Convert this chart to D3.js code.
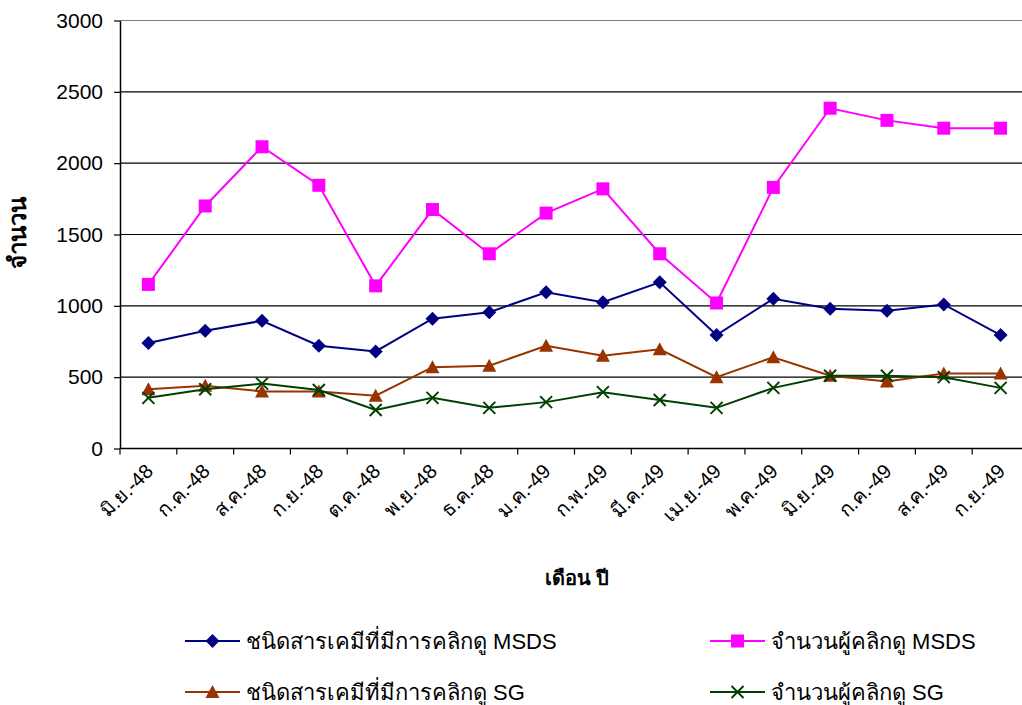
<!DOCTYPE html>
<html><head><meta charset="utf-8">
<script src="https://cdn.jsdelivr.net/npm/d3@7"></script>
<style>body{margin:0;background:#fff}svg{display:block}text{font-family:Arial,"Liberation Sans",sans-serif}</style>
</head><body><svg id="c" width="1022" height="705"></svg>
<script>
const categories = ["มิ.ย.-48","ก.ค.-48","ส.ค.-48","ก.ย.-48","ต.ค.-48","พ.ย.-48","ธ.ค.-48","ม.ค.-49","ก.พ.-49","มี.ค.-49","เม.ย.-49","พ.ค.-49","มิ.ย.-49","ก.ค.-49","ส.ค.-49","ก.ย.-49"];
const chemMSDS  = [740,825,895,720,680,910,955,1095,1025,1165,795,1050,980,965,1010,795];
const usersMSDS = [1150,1700,2115,1845,1140,1675,1365,1650,1820,1365,1020,1830,2385,2300,2245,2245];
const chemSG    = [415,440,400,400,370,570,580,720,650,695,500,640,510,470,525,525];
const usersSG   = [355,415,455,410,270,355,285,325,395,340,285,425,510,510,500,425];
const yTicks = [0,500,1000,1500,2000,2500,3000];
const seriesNames = ["ชนิดสารเคมีที่มีการคลิกดู MSDS","จำนวนผู้คลิกดู MSDS","ชนิดสารเคมีที่มีการคลิกดู SG","จำนวนผู้คลิกดู SG"];
const yTitle = "จำนวน", xTitle = "เดือน ปี";

const series = [
  {name: seriesNames[0], values: chemMSDS, color: "#000080", marker: "diamond"},
  {name: seriesNames[1], values: usersMSDS, color: "#FF00FF", marker: "square"},
  {name: seriesNames[2], values: chemSG, color: "#993300", marker: "triangle"},
  {name: seriesNames[3], values: usersSG, color: "#004000", marker: "x"}
];

const svg = d3.select("#c");
const L = 120, T = 20.5, R = 1029, B = 448.5;
const x = d3.scaleBand().domain(categories).range([L, R]).padding(0);
const y = d3.scaleLinear().domain([0, 3000]).range([B, T]);

// gridlines
svg.append("g").selectAll("line").data(yTicks.filter(d => d > 0)).join("line")
  .attr("x1", L).attr("x2", R).attr("y1", d => y(d)).attr("y2", d => y(d))
  .attr("stroke", d => d === 3000 ? "#808080" : "#000").attr("stroke-width", 1.2);

// y axis
const yAxis = d3.axisLeft(y).tickValues(yTicks).tickFormat(d3.format("d")).tickSize(6).tickPadding(11).tickSizeOuter(0);
const gy = svg.append("g").attr("transform", `translate(${L},0)`).call(yAxis);
gy.select(".domain").attr("stroke", "#000").attr("stroke-width", 1.5);
gy.selectAll(".tick line").attr("stroke", "#000").attr("stroke-width", 1.2);
gy.selectAll(".tick text").attr("font-size", 21).attr("fill", "#000").attr("font-family", "Arial, 'Liberation Sans', sans-serif");

// x axis
const bounds = categories.map((c, i) => x(c)).concat([R]);
svg.append("line").attr("x1", L).attr("x2", R).attr("y1", B).attr("y2", B).attr("stroke", "#000").attr("stroke-width", 1.5);
svg.append("g").selectAll("line").data(bounds).join("line")
  .attr("x1", d => d).attr("x2", d => d).attr("y1", B).attr("y2", B + 6)
  .attr("stroke", "#000").attr("stroke-width", 1.2);
svg.append("g").selectAll("text").data(categories).join("text")
  .attr("transform", d => `translate(${x(d) + x.bandwidth() / 2 - 4},${B + 14}) rotate(-45)`)
  .attr("text-anchor", "end").attr("dy", "0.7em").attr("font-size", 20).attr("fill", "#000")
  .text(d => d);

// titles
svg.append("text").attr("transform", `translate(18,233) rotate(-90)`).attr("text-anchor", "middle")
  .attr("dy", "0.35em").attr("font-size", 24).attr("font-weight", "bold").text(yTitle);
svg.append("text").attr("x", 577).attr("y", 585).attr("text-anchor", "middle")
  .attr("font-size", 20).attr("font-weight", "bold").text(xTitle);

function drawMarker(g, type, color) {
  if (type === "diamond") g.append("path").attr("d", "M0,-7L7,0L0,7L-7,0Z").attr("fill", color);
  else if (type === "square") g.append("rect").attr("x", -6.5).attr("y", -6.5).attr("width", 13).attr("height", 13).attr("fill", color);
  else if (type === "triangle") g.append("path").attr("d", "M0,-7L7,6L-7,6Z").attr("fill", color);
  else g.append("path").attr("d", "M-6,-6L6,6M-6,6L6,-6").attr("stroke", color).attr("stroke-width", 2).attr("fill", "none");
}

const line = d3.line().x((d, i) => x(categories[i]) + x.bandwidth() / 2).y(d => y(d));
series.forEach(s => {
  const g = svg.append("g");
  g.append("path").attr("d", line(s.values)).attr("fill", "none").attr("stroke", s.color).attr("stroke-width", 2);
  s.values.forEach((v, i) => {
    const m = g.append("g").attr("transform", `translate(${x(categories[i]) + x.bandwidth() / 2},${y(v)})`);
    drawMarker(m, s.marker, s.color);
  });
});

// legend
const legPos = [[185, 641], [710, 641], [185, 692], [710, 692]];
series.forEach((s, i) => {
  const [lx, ly] = legPos[i];
  const g = svg.append("g").attr("transform", `translate(${lx},${ly})`);
  g.append("line").attr("x1", 0).attr("x2", 55).attr("stroke", s.color).attr("stroke-width", 2);
  const m = g.append("g").attr("transform", "translate(27.5,0)");
  drawMarker(m, s.marker, s.color);
  g.append("text").attr("x", 61).attr("dy", "0.35em").attr("font-size", 22).attr("fill", "#000").text(s.name);
});
</script></body></html>
